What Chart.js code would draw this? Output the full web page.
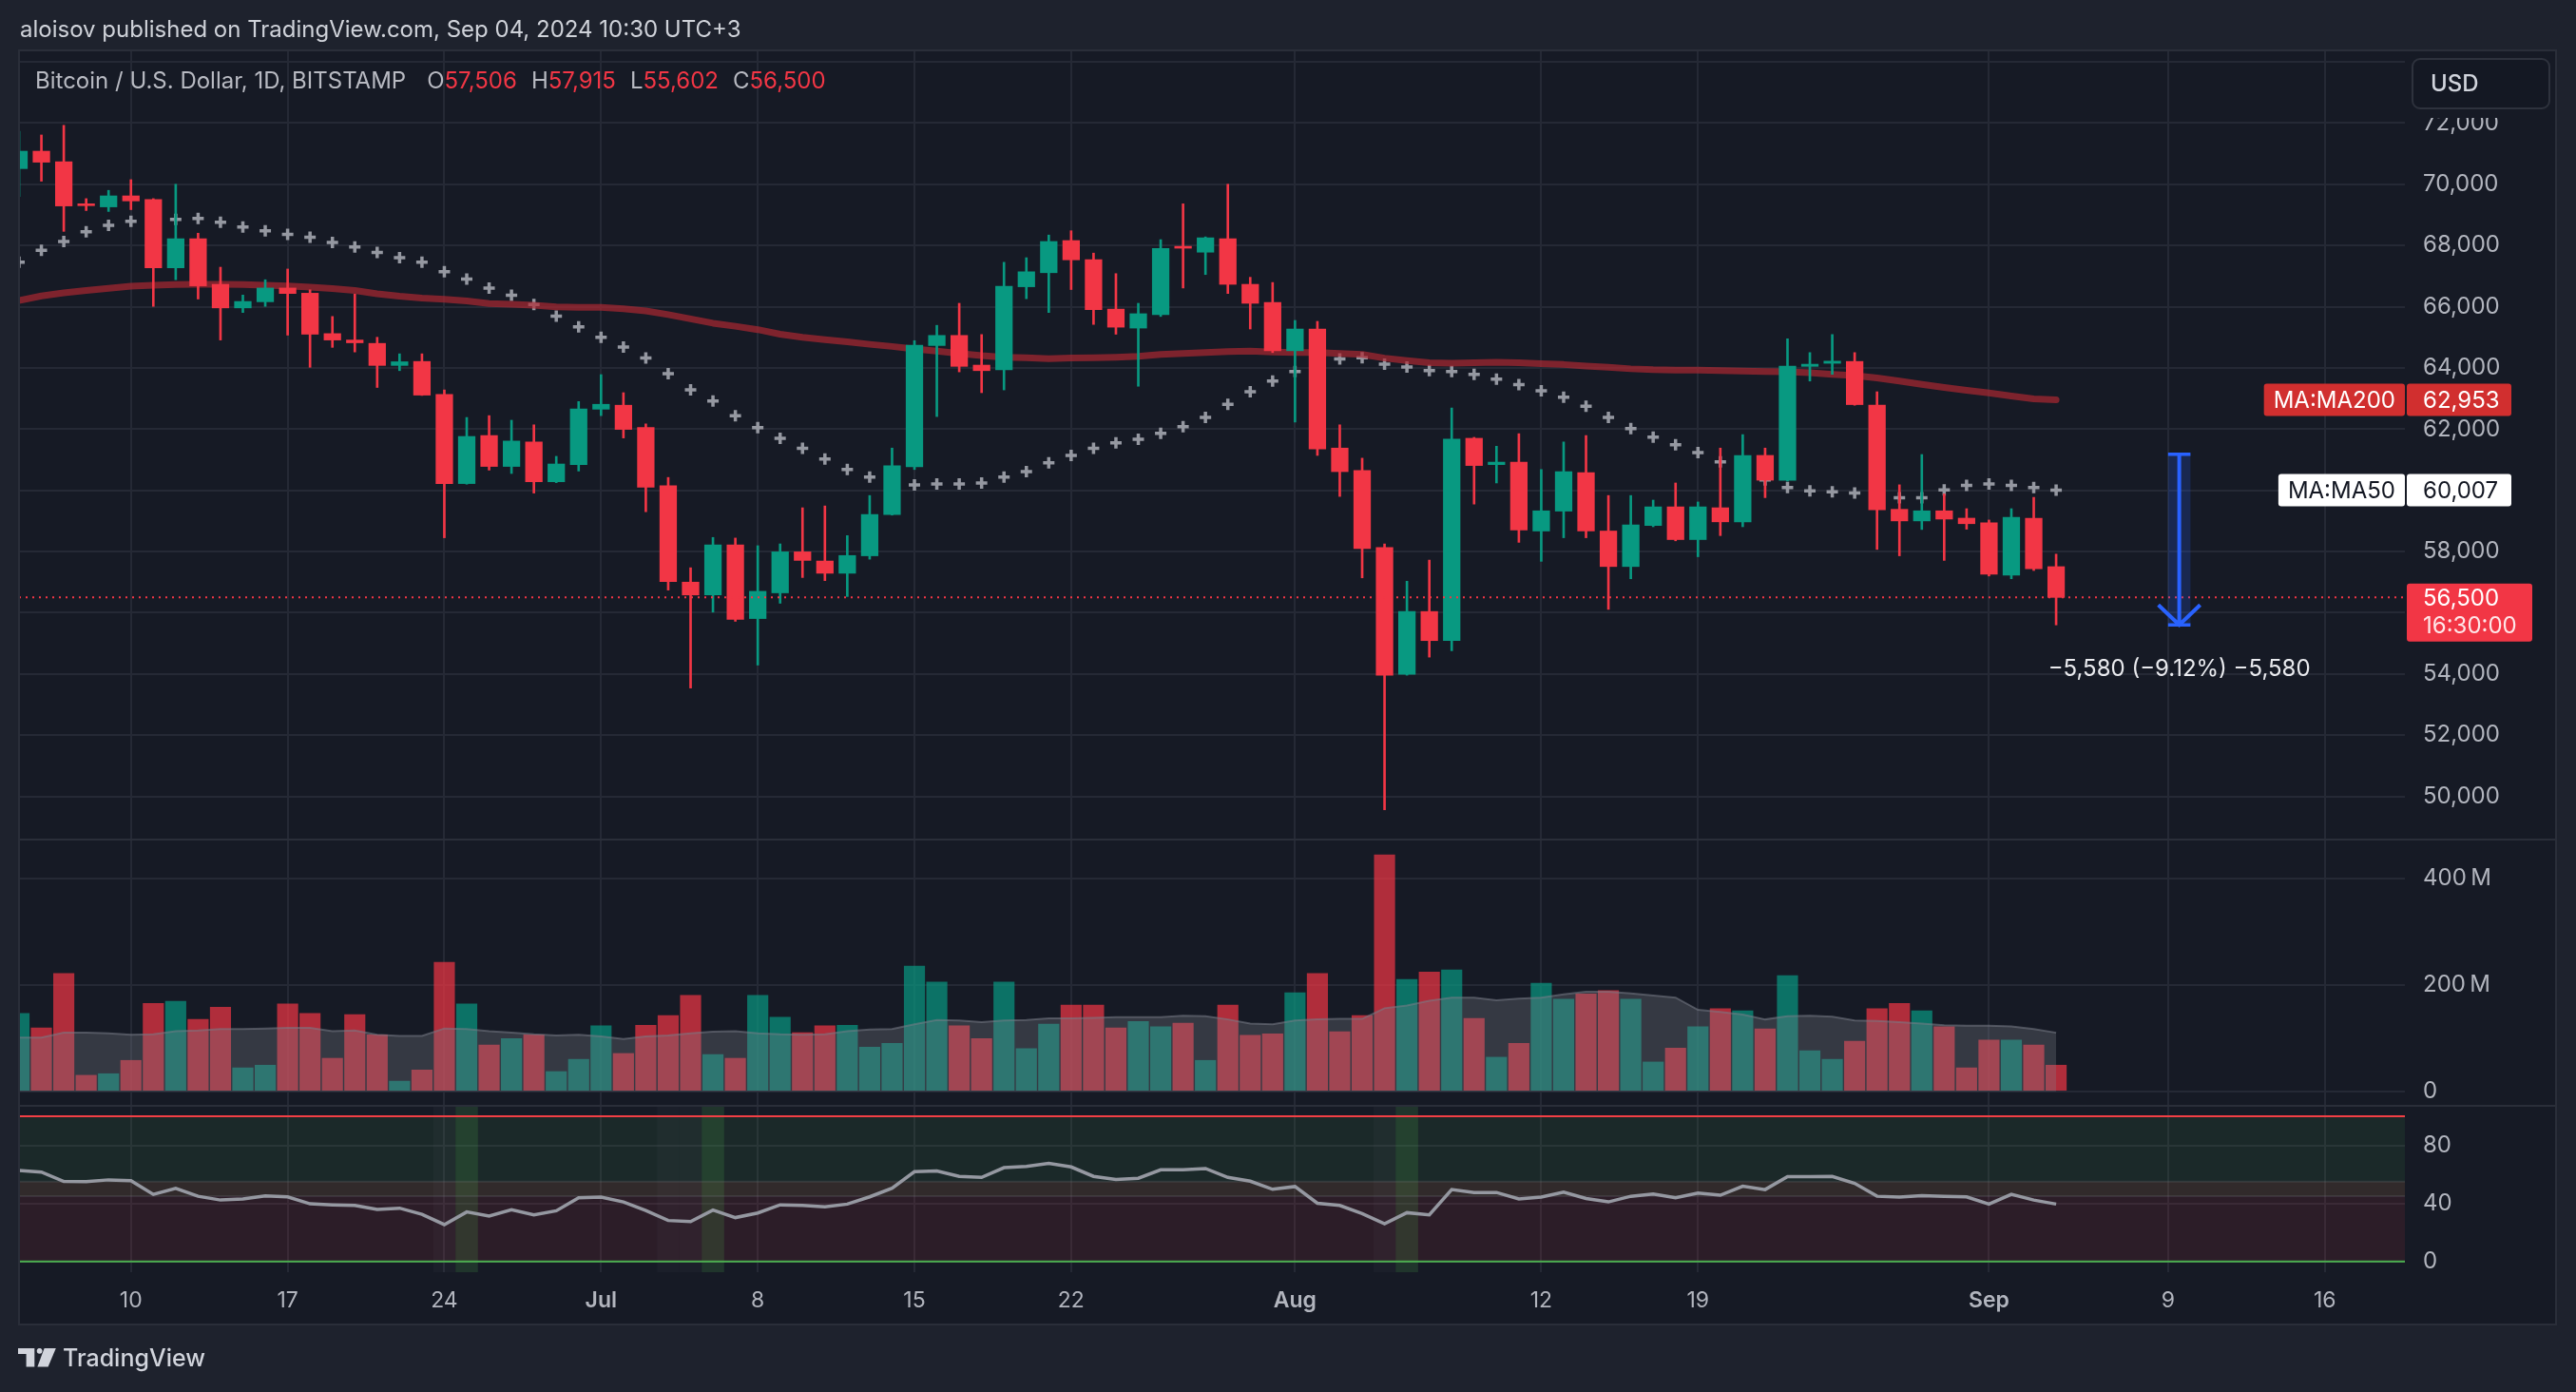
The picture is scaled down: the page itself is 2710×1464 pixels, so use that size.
<!DOCTYPE html>
<html>
<head>
<meta charset="utf-8">
<title>Bitcoin / U.S. Dollar, 1D, BITSTAMP</title>
<script src="https://cdn.jsdelivr.net/npm/chart.js@4.4.1/dist/chart.umd.min.js"></script>
<style>
  html, body { margin: 0; padding: 0; background: #1e222d; overflow: hidden; }
  #wrap { position: relative; width: 2710px; height: 1464px; font-family: Inter, "Noto Sans", sans-serif; }
  #chart { position: absolute; left: 0; top: 0; }
  .txt { position: absolute; white-space: nowrap; }
  #published { left: 21px; top: 16px; font-size: 24px; line-height: 30px; color: #cfd2d9; }
  #legend { left: 37px; top: 70px; font-size: 24px; line-height: 30px; color: #b8bac2; }
  #legend .k { margin-left: 15px; }
  #legend .k.first { margin-left: 22px; }
  #legend .v { color: #f23645; }
  #legend .v.up { color: #089981; }
  #logo { left: 19px; top: 1413px; height: 30px; display: flex; align-items: center; gap: 7px;
          color: #d1d4dc; font-size: 25px; font-weight: 500; }
</style>
</head>
<body>
<div id="wrap">
  <canvas id="chart" width="2710" height="1464"></canvas>
  <div id="published" class="txt">aloisov published on TradingView.com, Sep 04, 2024 10:30 UTC+3</div>
  <div id="legend" class="txt"></div>
  <div id="logo" class="txt">
    <svg width="40" height="20" viewBox="0 0 40 20">
      <path fill="#d1d4dc" d="M0 0H17.3V19.4H8.6V6H0Z"/>
      <circle fill="#d1d4dc" cx="22.6" cy="2.8" r="2.9"/>
      <path fill="#d1d4dc" d="M27.6 0H39.8L31.6 19.4H20.4Z"/>
    </svg>
    <span>TradingView</span>
  </div>
</div>
<script>
// ---- data (BTC/USD daily, Bitstamp) ----
const symbolTitle = "Bitcoin / U.S. Dollar, 1D, BITSTAMP";

const dates = [
  "2024-06-05","2024-06-06","2024-06-07","2024-06-08","2024-06-09","2024-06-10","2024-06-11","2024-06-12","2024-06-13","2024-06-14",
  "2024-06-15","2024-06-16","2024-06-17","2024-06-18","2024-06-19","2024-06-20","2024-06-21","2024-06-22","2024-06-23","2024-06-24",
  "2024-06-25","2024-06-26","2024-06-27","2024-06-28","2024-06-29","2024-06-30",
  "2024-07-01","2024-07-02","2024-07-03","2024-07-04","2024-07-05","2024-07-06","2024-07-07","2024-07-08","2024-07-09","2024-07-10",
  "2024-07-11","2024-07-12","2024-07-13","2024-07-14","2024-07-15","2024-07-16","2024-07-17","2024-07-18","2024-07-19","2024-07-20",
  "2024-07-21","2024-07-22","2024-07-23","2024-07-24","2024-07-25","2024-07-26","2024-07-27","2024-07-28","2024-07-29","2024-07-30","2024-07-31",
  "2024-08-01","2024-08-02","2024-08-03","2024-08-04","2024-08-05","2024-08-06","2024-08-07","2024-08-08","2024-08-09","2024-08-10",
  "2024-08-11","2024-08-12","2024-08-13","2024-08-14","2024-08-15","2024-08-16","2024-08-17","2024-08-18","2024-08-19","2024-08-20",
  "2024-08-21","2024-08-22","2024-08-23","2024-08-24","2024-08-25","2024-08-26","2024-08-27","2024-08-28","2024-08-29","2024-08-30","2024-08-31",
  "2024-09-01","2024-09-02","2024-09-03","2024-09-04"
];

const opens = [
  70510,71080,70735,69350,69260,69620,69500,67270,68220,66730,65960,66160,66610,66440,65120,64910,64800,64080,64210,63130,60220,61790,60780,61580,60280,60840,
  62650,62780,62050,60150,57000,56580,58220,55810,56650,57990,57690,57290,57860,59210,60770,64730,65060,64090,63940,66650,67110,68160,67540,65920,65300,65740,67960,67780,68220,66730,66140,
  64560,65270,61380,60650,58130,53990,56040,55090,61700,60840,60920,58670,59320,60580,58670,57510,58850,59460,58390,59430,58970,61140,60330,64050,64150,64210,62780,59380,59000,59330,59090,
  58940,57230,59090,57506
];
const highs = [
  71730,71610,71925,69530,69800,70150,69530,70000,68400,67290,66380,66880,67230,66550,65680,66410,65000,64460,64460,63280,62380,62440,62290,62140,61110,62900,
  63780,63190,62170,60420,57470,58460,58440,58190,58250,59430,59490,58520,59830,61380,64890,65390,66110,65090,67450,67600,68340,68480,67750,67080,66110,68190,69360,68280,70000,66960,66790,
  65550,65520,62140,61050,58250,57030,57720,62690,61730,61440,61850,60680,61580,61790,59830,59830,59680,60240,59620,61380,61820,61380,64950,64500,65090,64500,63220,60180,61170,59880,59400,
  59030,59400,59770,57915
];
const lows = [
  69600,70100,68460,69140,69110,69170,66010,66880,66250,64910,65810,66010,65070,64020,64670,64520,63360,63910,63100,58450,60200,60660,60550,59910,60250,60630,
  62440,61710,59300,56740,53540,56020,55720,54290,56310,57150,57050,56530,57750,59190,60680,62410,63870,63190,63280,66260,65810,66560,65420,65100,63400,65680,66610,67050,66430,65270,64500,
  62230,61140,59800,57140,49560,53960,54550,54760,59550,60240,58300,57680,58450,58450,56110,57110,58810,58350,57830,58520,58810,59760,60300,63570,63790,62780,58070,57860,58720,57710,58730,
  57200,57110,57380,55602
];
const closes = [
  71080,70720,69290,69300,69620,69455,67270,68220,66680,65960,66170,66610,66430,65100,64910,64820,64080,64200,63110,60220,61760,60780,61610,60280,60860,62660,
  62810,61990,60100,57020,56580,58220,55780,56700,57990,57710,57290,57870,59210,60800,64740,65060,64050,63910,66670,67140,68130,67530,65900,65330,65770,67900,67910,68250,66730,66110,64560,
  65270,61350,60610,58100,53960,56040,55090,61670,60810,60920,58700,59330,60610,58670,57510,58870,59460,58390,59460,58970,61140,60330,64060,64120,64220,62800,59360,59000,59330,59060,58910,
  57260,59120,57440,56500
];

// volume in millions
const volumeM = [
  146,119,221,30,33,58,165,169,135,158,44,49,164,146,62,144,106,19,40,242,164,87,99,106,37,60,
  123,71,124,142,180,69,62,180,139,110,123,124,83,90,235,205,123,99,205,80,126,162,162,119,131,121,128,58,162,105,108,
  185,221,112,142,444,210,224,228,137,64,90,203,173,183,189,173,55,81,121,155,151,117,217,76,60,94,155,165,151,121,44,
  96,96,87,49
];
const volumeMA = [
  101,101,110,110,109,106,107,113,114,117,117,118,119,119,113,114,106,104,104,118,117,113,110,107,105,106,
  103,98,103,105,109,112,113,109,107,106,107,113,116,117,126,134,133,130,133,134,137,137,138,139,139,139,142,141,135,127,126,
  133,135,136,136,156,161,170,176,176,171,174,176,182,187,187,184,180,176,153,149,144,135,141,142,140,133,132,130,127,124,123,
  123,122,117,110
];

const ma50 = [
  67450,67840,68130,68450,68660,68790,68830,68850,68880,68760,68600,68480,68360,68270,68100,67950,67770,67600,67450,67140,66900,66610,66370,66070,65690,65340,
  65000,64680,64320,63810,63280,62920,62440,62050,61700,61370,61020,60680,60430,60300,60180,60210,60210,60240,60430,60610,60900,61140,61370,61550,61670,61860,62080,62380,62810,63220,63570,
  63880,64150,64290,64330,64120,64030,63910,63880,63790,63630,63450,63250,63040,62750,62380,62020,61740,61490,61230,60930,60630,60340,60090,59980,59950,59910,59830,59760,59760,60010,60160,
  60210,60160,60090,60007
];
const ma200 = [
  66200,66350,66450,66530,66600,66670,66700,66720,66730,66730,66720,66700,66680,66640,66590,66530,66420,66340,66280,66240,66190,66100,66080,66050,65990,65980,
  65980,65930,65860,65740,65600,65460,65360,65250,65100,65000,64920,64850,64770,64700,64620,64550,64470,64400,64350,64330,64300,64320,64330,64350,64380,64440,64470,64500,64530,64545,64515,
  64500,64500,64470,64440,64320,64240,64170,64150,64170,64180,64170,64140,64110,64060,64020,63970,63940,63930,63930,63910,63900,63880,63870,63840,63790,63750,63670,63570,63460,63360,63270,
  63180,63080,62990,62953
];

const rsi = [
  62.7,61.6,55.1,54.9,56.2,55.7,46.2,50.3,44.9,42.3,43.0,45.1,44.5,39.7,39.0,38.6,35.8,36.7,32.5,25.4,34.1,31.2,35.6,32.1,34.9,43.8,
  44.3,41.0,35.1,28.2,27.5,35.4,30.2,33.4,39.0,38.6,37.7,39.5,44.5,50.5,61.8,62.3,58.6,57.9,64.6,65.5,67.5,65.1,58.6,56.4,57.3,63.1,63.1,64.0,57.9,55.3,49.7,
  51.6,40.1,38.6,33.0,26.0,33.6,32.1,49.5,47.5,47.5,43.0,44.3,47.7,43.4,41.0,44.9,46.4,43.8,47.1,45.6,51.8,49.5,58.4,58.4,58.6,53.8,44.9,44.3,45.3,44.9,44.5,
  39.5,46.2,42.3,39.5
];
const rsiSignalDates = ["2024-06-25", "2024-07-06", "2024-08-06"];
const rsiShadeDates = ["2024-06-24", "2024-07-04", "2024-07-05", "2024-08-05"];

// axis labels
const xTickDates = ["2024-06-10","2024-06-17","2024-06-24","2024-07-01","2024-07-08","2024-07-15","2024-07-22",
                    "2024-08-01","2024-08-12","2024-08-19","2024-09-01","2024-09-09","2024-09-16"];
const xTickLabels = ["10","17","24","Jul","8","15","22","Aug","12","19","Sep","9","16"];
const priceTicks = [50000, 52000, 54000, 56000, 58000, 60000, 62000, 64000, 66000, 68000, 70000, 72000, 74000];
const volTicks = [0, 200, 400];
const rsiTicks = [0, 40, 80];

// price range measurement drawn on the chart
const measureDates = ["2024-09-09", "2024-09-10"];
const measureFrom = 61180;
const measureTo = 55600;
const countdown = "16:30:00";

// ---- helpers ----
const UP = "#089981";
const DOWN = "#f23645";
const GRID = "#252935";
const AXIS_TXT = "#b2b5be";
const FRAME = { l: 20, t: 53, r: 2689, b: 1393 };

function dayIndex(s) {
  return Math.round((Date.parse(s + "T00:00:00Z") - Date.parse("2024-06-10T00:00:00Z")) / 864e5);
}
function fmt(v) {
  return v.toLocaleString("en-US", { maximumFractionDigits: 0 });
}

const xs = dates.map(dayIndex);
const last = closes.length - 1;
const isUp = opens.map((o, i) => closes[i] >= o);
const candleColors = isUp.map((u) => (u ? UP : DOWN));
const volColors = isUp.map((u) => (u ? "rgba(8,153,129,0.7)" : "rgba(242,54,69,0.7)"));

// legend line above the chart
(function fillLegend() {
  const cls = isUp[last] ? "v up" : "v";
  const parts = [["O", opens[last]], ["H", highs[last]], ["L", lows[last]], ["C", closes[last]]];
  let html = symbolTitle;
  parts.forEach(([k, v], i) => {
    html += `<span class="k${i === 0 ? " first" : ""}">${k}</span><span class="${cls}">${fmt(v)}</span>`;
  });
  document.getElementById("legend").innerHTML = html;
})();

function tag(ctx, yPix, name, value, bg, fg, axisLeft) {
  ctx.font = "24px Inter";
  const h = 34;
  const nameW = ctx.measureText(name).width + 20;
  ctx.fillStyle = bg;
  ctx.beginPath();
  ctx.roundRect(axisLeft - nameW, yPix - h / 2, nameW, h, 3);
  ctx.fill();
  ctx.beginPath();
  ctx.roundRect(axisLeft + 2, yPix - h / 2, 110, h, 3);
  ctx.fill();
  ctx.fillStyle = fg;
  ctx.textBaseline = "middle";
  ctx.textAlign = "left";
  ctx.fillText(name, axisLeft - nameW + 10, yPix + 1);
  ctx.fillText(value, axisLeft + 19, yPix + 1);
}

// backgrounds, RSI zones, labels on the price scale, measurement
const chartDecor = {
  id: "chartDecor",
  beforeDraw(chart) {
    const { ctx, width, height } = chart;
    ctx.save();
    ctx.fillStyle = "#1e222d";
    ctx.fillRect(0, 0, width, height);
    ctx.fillStyle = "#161a25";
    ctx.fillRect(FRAME.l, FRAME.t, FRAME.r - FRAME.l, FRAME.b - FRAME.t);
    ctx.restore();
  },
  beforeDatasetsDraw(chart) {
    const { ctx, chartArea: a, scales } = chart;
    const x = scales.x, r = scales.yRsi;
    const w = a.right - a.left;
    ctx.save();
    ctx.beginPath();
    ctx.rect(a.left, r.top, w, r.bottom - r.top);
    ctx.clip();
    const band = (v1, v2, color) => {
      const t = r.getPixelForValue(v1), b = r.getPixelForValue(v2);
      ctx.fillStyle = color;
      ctx.fillRect(a.left, t, w, b - t);
    };
    band(100, 45, "rgba(76,175,80,0.1)");
    band(55, 0, "rgba(242,54,69,0.1)");
    const column = (d, color) => {
      const l = x.getPixelForValue(dayIndex(d) - 0.5), rr = x.getPixelForValue(dayIndex(d) + 0.5);
      ctx.fillStyle = color;
      ctx.fillRect(l, r.top, rr - l, r.bottom - r.top);
    };
    rsiShadeDates.forEach((d) => column(d, "rgba(120,123,134,0.06)"));
    rsiSignalDates.forEach((d) => column(d, "rgba(76,175,80,0.18)"));
    [55, 45].forEach((v) => {
      ctx.strokeStyle = "rgba(120,123,134,0.22)";
      ctx.lineWidth = 2;
      ctx.beginPath();
      ctx.moveTo(a.left, r.getPixelForValue(v));
      ctx.lineTo(a.right, r.getPixelForValue(v));
      ctx.stroke();
    });
    [[100, "#f23f45"], [0, "#4caf50"]].forEach(([v, c]) => {
      ctx.strokeStyle = c;
      ctx.lineWidth = 2;
      ctx.beginPath();
      ctx.moveTo(a.left, r.getPixelForValue(v));
      ctx.lineTo(a.right, r.getPixelForValue(v));
      ctx.stroke();
    });
    ctx.restore();
  },
  afterDatasetsDraw(chart) {
    const { ctx, chartArea: a, scales } = chart;
    const x = scales.x, y = scales.y;
    ctx.save();
    // last price line
    const yP = y.getPixelForValue(closes[last]);
    ctx.strokeStyle = isUp[last] ? UP : DOWN;
    ctx.lineWidth = 2;
    ctx.setLineDash([2, 5]);
    ctx.beginPath();
    ctx.moveTo(a.left, yP);
    ctx.lineTo(a.right, yP);
    ctx.stroke();
    ctx.setLineDash([]);

    // measurement
    const x0 = x.getPixelForValue(dayIndex(measureDates[0]));
    const x1 = x.getPixelForValue(dayIndex(measureDates[1]));
    const xc = (x0 + x1) / 2;
    const yT = y.getPixelForValue(measureFrom);
    const yB = y.getPixelForValue(measureTo);
    ctx.fillStyle = "rgba(41,98,255,0.2)";
    ctx.fillRect(x0, yT, x1 - x0, yB - yT);
    ctx.strokeStyle = "#2962ff";
    ctx.lineWidth = 3.5;
    ctx.beginPath();
    ctx.moveTo(x0, yT); ctx.lineTo(x1, yT);
    ctx.moveTo(x0, yB); ctx.lineTo(x1, yB);
    ctx.stroke();
    ctx.lineWidth = 4;
    ctx.beginPath();
    ctx.moveTo(xc, yT); ctx.lineTo(xc, yB);
    ctx.moveTo(xc - 22, yB - 21); ctx.lineTo(xc, yB); ctx.lineTo(xc + 22, yB - 21);
    ctx.stroke();
    const diff = measureTo - measureFrom;
    const pct = (diff / measureFrom) * 100;
    const sign = diff < 0 ? "\u2212" : "+";
    const label = `${sign}${fmt(Math.abs(diff))} (${sign}${Math.abs(pct).toFixed(2)}%) ${sign}${fmt(Math.abs(diff))}`;
    ctx.fillStyle = "#e9eaee";
    ctx.font = "24px Inter";
    ctx.textAlign = "center";
    ctx.textBaseline = "middle";
    ctx.fillText(label, xc, yB + 46);
    ctx.restore();
  },
  afterDraw(chart) {
    const { ctx, scales } = chart;
    const y = scales.y;
    ctx.save();
    // pane separators and frame
    ctx.strokeStyle = "#2a2e39";
    ctx.lineWidth = 2;
    [scales.yVol.top, scales.yRsi.top].forEach((t) => {
      ctx.beginPath();
      ctx.moveTo(FRAME.l, t);
      ctx.lineTo(FRAME.r, t);
      ctx.stroke();
    });
    ctx.strokeRect(FRAME.l, FRAME.t, FRAME.r - FRAME.l, FRAME.b - FRAME.t);

    // moving average tags and last price tag on the scale
    tag(ctx, y.getPixelForValue(ma200[last]), "MA:MA200", fmt(ma200[last]), "#d12f2f", "#ffffff", y.left);
    tag(ctx, y.getPixelForValue(ma50[last]), "MA:MA50", fmt(ma50[last]), "#ffffff", "#131722", y.left);
    const yP = y.getPixelForValue(closes[last]);
    ctx.fillStyle = isUp[last] ? UP : DOWN;
    ctx.beginPath();
    ctx.roundRect(y.left + 2, yP - 14.5, 132, 61, 3);
    ctx.fill();
    ctx.fillStyle = "#ffffff";
    ctx.font = "24px Inter";
    ctx.textAlign = "left";
    ctx.textBaseline = "middle";
    ctx.fillText(fmt(closes[last]), y.left + 19, yP + 1);
    ctx.fillStyle = "rgba(255,255,255,0.88)";
    ctx.fillText(countdown, y.left + 19, yP + 30);

    // currency button (covers the top of the scale)
    ctx.fillStyle = "#161a25";
    ctx.fillRect(y.left + 1, FRAME.t + 1, FRAME.r - y.left - 2, 70);
    ctx.fillStyle = "#141823";
    ctx.strokeStyle = "#2e323d";
    ctx.lineWidth = 2;
    ctx.beginPath();
    ctx.roundRect(2538, 62, 144, 52, 8);
    ctx.fill();
    ctx.stroke();
    ctx.fillStyle = "#d1d4dc";
    ctx.font = "500 24px Inter";
    ctx.fillText("USD", 2557, 89);
    ctx.restore();
  }
};

Chart.defaults.font.family = "Inter";
Chart.defaults.color = AXIS_TXT;

new Chart(document.getElementById("chart"), {
  type: "line",
  data: {
    datasets: [
      {
        label: "MA50",
        data: xs.map((x, i) => ({ x, y: ma50[i] })),
        yAxisID: "y",
        showLine: false,
        pointStyle: "cross",
        pointRadius: 6,
        pointBorderWidth: 3.5,
        pointBorderColor: "#9598a1",
        order: 6,
        clip: 0,
      },
      {
        label: "MA200",
        data: xs.map((x, i) => ({ x, y: ma200[i] })),
        yAxisID: "y",
        borderColor: "rgba(176,40,50,0.68)",
        borderWidth: 7,
        borderCapStyle: "round",
        borderJoinStyle: "round",
        pointRadius: 0,
        order: 5,
        clip: 0,
      },
      {
        type: "bar",
        label: "wick",
        data: xs.map((x, i) => ({ x, y: [lows[i], highs[i]] })),
        yAxisID: "y",
        backgroundColor: candleColors,
        barThickness: 2,
        grouped: false,
        order: 4,
        clip: 0,
      },
      {
        type: "bar",
        label: "BTCUSD",
        data: xs.map((x, i) => ({ x, y: [opens[i], closes[i]] })),
        yAxisID: "y",
        backgroundColor: candleColors,
        barThickness: 17.6,
        minBarLength: 2,
        grouped: false,
        order: 3,
        clip: 0,
      },
      {
        type: "bar",
        label: "Volume",
        data: xs.map((x, i) => ({ x, y: volumeM[i] })),
        yAxisID: "yVol",
        backgroundColor: volColors,
        barThickness: 21.5,
        grouped: false,
        order: 2,
        clip: 0,
      },
      {
        label: "Volume MA",
        data: xs.map((x, i) => ({ x, y: volumeMA[i] })),
        yAxisID: "yVol",
        borderColor: "rgba(120,123,134,0.55)",
        borderWidth: 2,
        backgroundColor: "rgba(125,128,140,0.3)",
        fill: { value: 0 },
        pointRadius: 0,
        order: 1,
        clip: 0,
      },
      {
        label: "RSI",
        data: xs.map((x, i) => ({ x, y: rsi[i] })),
        yAxisID: "yRsi",
        borderColor: "#9598a1",
        borderWidth: 3.5,
        pointRadius: 0,
        order: 0,
        clip: 0,
      },
    ],
  },
  options: {
    responsive: false,
    animation: false,
    events: [],
    layout: { padding: { left: FRAME.l, top: FRAME.t, right: 2710 - FRAME.r, bottom: 1464 - FRAME.b } },
    plugins: { legend: { display: false }, tooltip: { enabled: false } },
    scales: {
      x: {
        type: "linear",
        min: dayIndex(dates[0]),
        max: 101.58,
        offset: false,
        afterBuildTicks: (s) => { s.ticks = xTickDates.map((d) => ({ value: dayIndex(d) })); },
        afterFit: (s) => { s.height = 55; },
        grid: { color: GRID, lineWidth: 2, drawTicks: false, offset: false },
        border: { display: false },
        ticks: {
          autoSkip: false,
          maxRotation: 0,
          padding: 16,
          color: AXIS_TXT,
          font: (c) => ({ size: 23, weight: /^[A-Z]/.test(xTickLabels[c.index] || "") ? "600" : "400" }),
          callback: (v, i) => xTickLabels[i],
        },
      },
      y: {
        type: "linear",
        position: "right",
        stack: "panes",
        stackWeight: 830,
        min: 48589,
        max: 74373,
        afterBuildTicks: (s) => { s.ticks = priceTicks.map((v) => ({ value: v })); },
        afterFit: (s) => { s.width = FRAME.r - 2530; },
        grid: { color: GRID, lineWidth: 2, drawTicks: false },
        border: { display: false },
        ticks: {
          padding: 19,
          color: AXIS_TXT,
          font: { size: 24 },
          callback: (v) => (v >= 74000 ? "" : fmt(v)),
        },
      },
      yVol: {
        type: "linear",
        position: "right",
        stack: "panes",
        stackWeight: 280,
        min: -27.3,
        max: 472.7,
        afterBuildTicks: (s) => { s.ticks = volTicks.map((v) => ({ value: v })); },
        afterFit: (s) => { s.width = FRAME.r - 2530; },
        grid: { color: GRID, lineWidth: 2, drawTicks: false },
        border: { display: false },
        ticks: {
          padding: 19,
          color: AXIS_TXT,
          font: { size: 24 },
          callback: (v) => (v === 0 ? "0" : v + "\u2009M"),
        },
      },
      yRsi: {
        type: "linear",
        position: "right",
        stack: "panes",
        stackWeight: 175,
        min: -7.4,
        max: 107.2,
        afterBuildTicks: (s) => { s.ticks = rsiTicks.map((v) => ({ value: v })); },
        afterFit: (s) => { s.width = FRAME.r - 2530; },
        grid: { color: GRID, lineWidth: 2, drawTicks: false },
        border: { display: false },
        ticks: {
          padding: 19,
          color: AXIS_TXT,
          font: { size: 24 },
          callback: (v) => String(v),
        },
      },
    },
  },
  plugins: [chartDecor],
});
</script>
</body>
</html>
